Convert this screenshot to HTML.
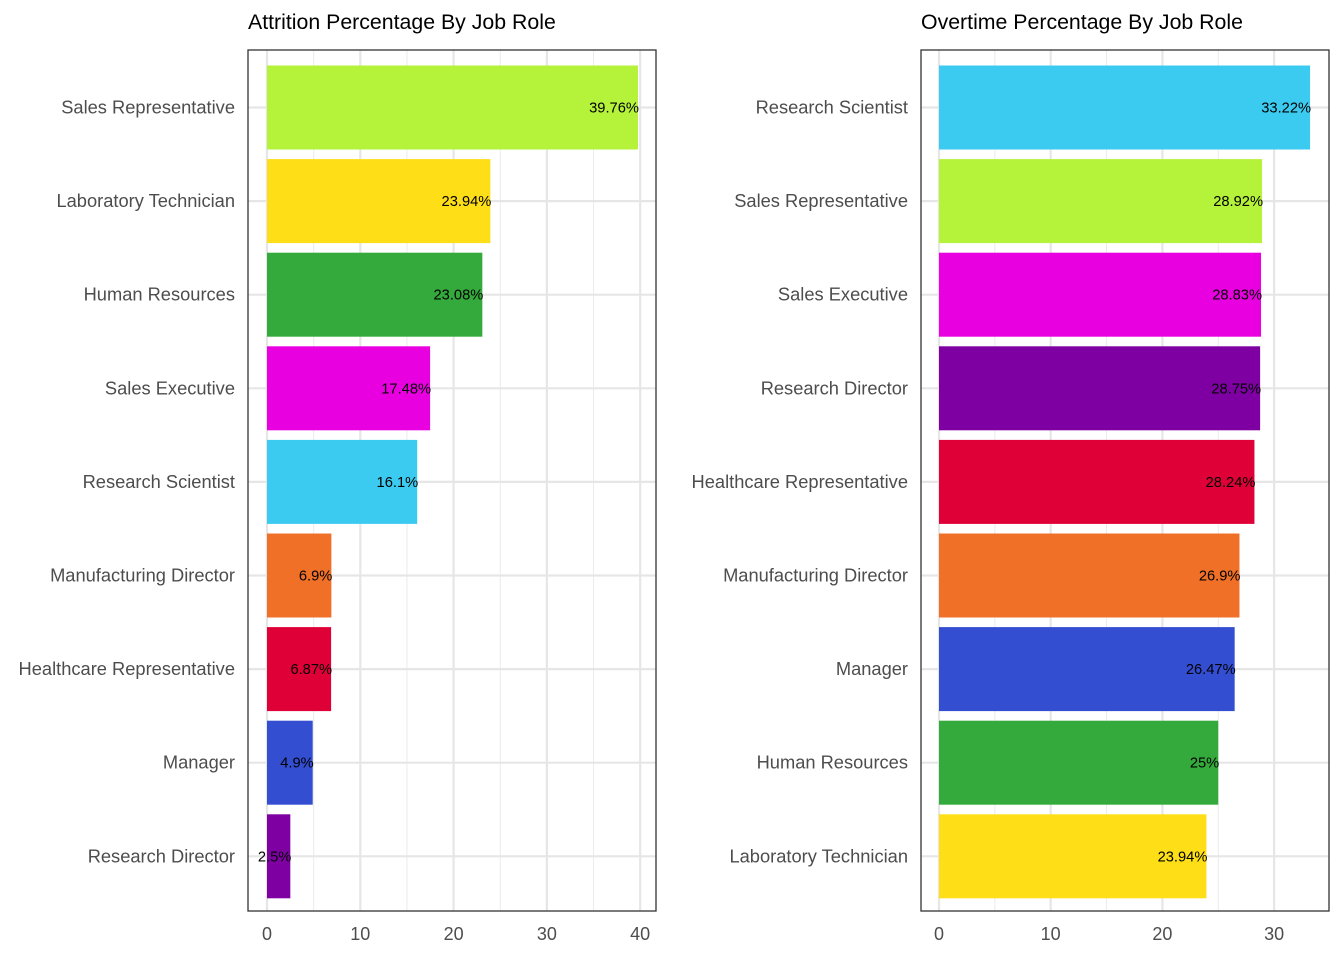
<!DOCTYPE html>
<html><head><meta charset="utf-8"><style>
html,body{margin:0;padding:0;background:#fff;}
svg text{font-family:"Liberation Sans",Arial,sans-serif;}
</style></head><body>
<svg id="chart" width="1344" height="960" xmlns="http://www.w3.org/2000/svg"></svg>
<script>
const leftCats=["Sales Representative","Laboratory Technician","Human Resources","Sales Executive","Research Scientist","Manufacturing Director","Healthcare Representative","Manager","Research Director"];
const leftVals=[39.76,23.94,23.08,17.48,16.1,6.9,6.87,4.9,2.5];
const leftLabels=["39.76%","23.94%","23.08%","17.48%","16.1%","6.9%","6.87%","4.9%","2.5%"];
const leftTicks=[0,10,20,30,40];
const rightCats=["Research Scientist","Sales Representative","Sales Executive","Research Director","Healthcare Representative","Manufacturing Director","Manager","Human Resources","Laboratory Technician"];
const rightVals=[33.22,28.92,28.83,28.75,28.24,26.9,26.47,25,23.94];
const rightLabels=["33.22%","28.92%","28.83%","28.75%","28.24%","26.9%","26.47%","25%","23.94%"];
const rightTicks=[0,10,20,30];
const colorMap={"Sales Representative":"#b5f23a","Laboratory Technician":"#fede17","Human Resources":"#35aa3c","Sales Executive":"#e800e0","Research Scientist":"#3ccbf0","Manufacturing Director":"#f07028","Healthcare Representative":"#e00038","Manager":"#344ed2","Research Director":"#7e00a2"};
const NS="http://www.w3.org/2000/svg";
const svg=document.getElementById('chart');
function mk(tag,attrs,parent){const e=document.createElementNS(NS,tag);for(const k in attrs)e.setAttribute(k,attrs[k]);(parent||svg).appendChild(e);return e;}
function panel(id,title,cats,vals,labels,ticks,L,R,x0,pxPerUnit){
  const T=50,B=911;
  const g=mk('g',{});
  
  
  const xs=v=>x0+v*pxPerUnit;
  const step=93.6, y0=107.5;
  const ys=i=>y0+i*step;
  const maxT=ticks[ticks.length-1];
  for(let v=5;v<=maxT+5;v+=10){const x=xs(v);if(x<R){const l=mk('line',{x1:x,x2:x,y1:T,y2:B,stroke:'#ebebeb','stroke-width':1},g);}}
  ticks.forEach(v=>{const l=mk('line',{x1:xs(v),x2:xs(v),y1:T,y2:B,stroke:'#e6e6e6','stroke-width':2.2},g);});
  cats.forEach((c,i)=>{const l=mk('line',{x1:L,x2:R,y1:ys(i),y2:ys(i),stroke:'#e6e6e6','stroke-width':2.2},g);});
  cats.forEach((c,i)=>{
    const r=mk('rect',{x:xs(0),y:ys(i)-42,width:xs(vals[i])-xs(0),height:84,fill:colorMap[c]},g);
    
    
    const t=mk('text',{x:xs(vals[i])+1,y:ys(i)+5,'text-anchor':'end','font-size':14.7,fill:'#000'},g);t.textContent=labels[i];
    
    
    const ct=mk('text',{x:L-13,y:ys(i)+6,'text-anchor':'end','font-size':18.3,fill:'#4d4d4d'},g);ct.textContent=c;
    
    
  });
  ticks.forEach(v=>{const t=mk('text',{x:xs(v),y:B+29,'text-anchor':'middle','font-size':18,fill:'#4d4d4d'},g);t.textContent=v;
    
    });
  const fr=mk('rect',{x:L,y:T,width:R-L,height:B-T,fill:'none',stroke:'#333','stroke-width':1.3},g);
  
  
  const tt=mk('text',{x:L,y:29,'font-size':21.3,fill:'#000'},g);tt.textContent=title;
  
  
}
panel('attrition','Attrition Percentage By Job Role',leftCats,leftVals,leftLabels,leftTicks,248,656,267,9.33);
panel('overtime','Overtime Percentage By Job Role',rightCats,rightVals,rightLabels,rightTicks,921,1329,939,11.17);
</script>
</body></html>
